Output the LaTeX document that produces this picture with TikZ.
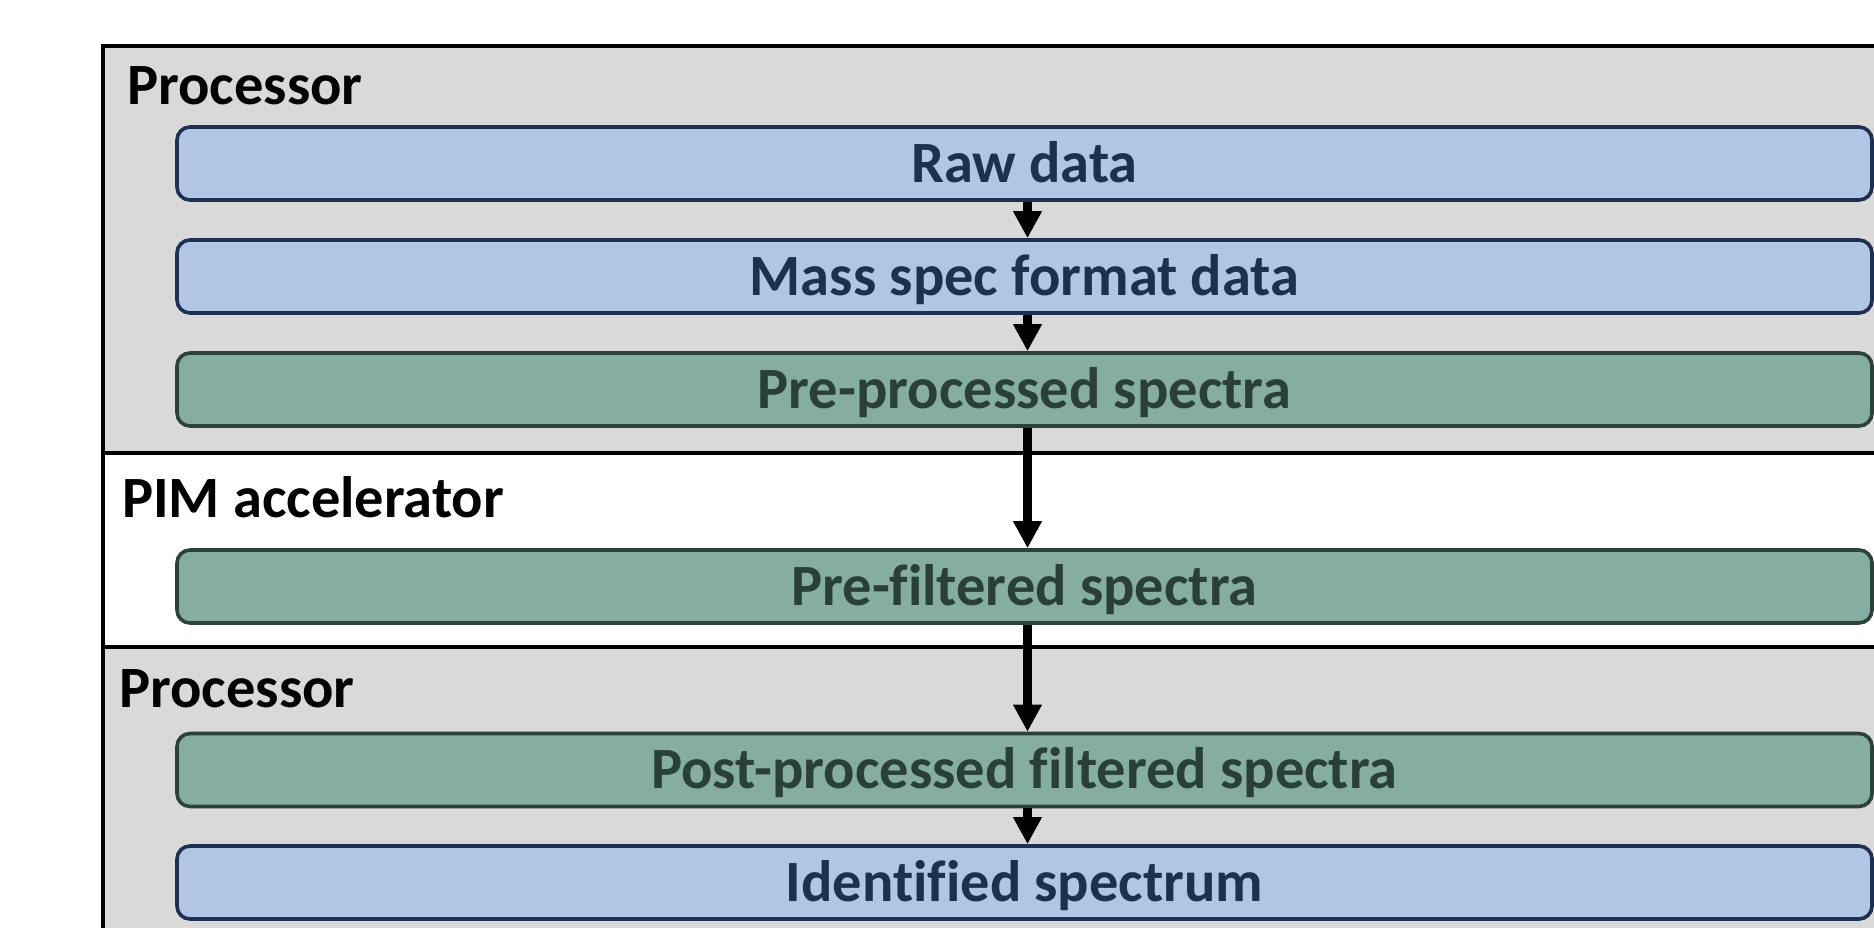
\documentclass[tikz,border=0pt]{standalone}
\usepackage{fontspec}
\setmainfont{Carlito}[Ligatures=NoCommon]
\usetikzlibrary{arrows.meta}
\definecolor{bggray}{HTML}{D9D9D9}
\definecolor{bluefill}{HTML}{B1C6E5}
\definecolor{blueline}{HTML}{1D3051}
\definecolor{bluetext}{HTML}{1D3051}
\definecolor{greenfill}{HTML}{85ADA2}
\definecolor{greenline}{HTML}{2C4239}
\definecolor{greentext}{HTML}{2A3F37}
\tikzset{
  stagebox/.style={rounded corners=13pt, line width=3.6pt, minimum width=1695pt,
    minimum height=73pt, inner sep=0pt, text height=37.7pt, text depth=0pt,
    font=\fontsize{58.5}{60}\selectfont\bfseries},
  bluebox/.style={stagebox, draw=blueline, fill=bluefill, text=bluetext},
  greenbox/.style={stagebox, draw=greenline, fill=greenfill, text=greentext},
  seclabel/.style={anchor=base west, inner sep=0pt, font=\fontsize{58.5}{60}\selectfont\bfseries},
  flow/.style={line width=8.5pt, -{Triangle[length=27pt,width=27pt]}},
}
\begin{document}
\begin{tikzpicture}[x=1pt,y=-1pt]
\useasboundingbox (0,0) rectangle (1874,927);
\clip (0,0) rectangle (1874,927);
% section backgrounds
\fill[bggray] (103,46) rectangle (1900,453);
\fill[white] (103,453) rectangle (1900,647);
\fill[bggray] (103,647) rectangle (1900,960);
% frame lines
\draw[line width=4pt] (1900,46) -- (103,46) -- (103,960);
\draw[line width=3.6pt] (103,453) -- (1900,453);
\draw[line width=3.6pt] (103,647) -- (1900,647);
% labels
\node[seclabel] (lproc1) at (127,104) {Processor};
\node[seclabel] (lpim) at (122,517) {PIM accelerator};
\node[seclabel] (lproc2) at (119,707) {Processor};
% boxes
\node[bluebox] (raw) at (1024.5,163.5) {Raw data};
\node[bluebox] (mass) at (1024.5,276.5) {Mass spec format data};
\node[greenbox] (pre) at (1024.5,389.5) {Pre-processed spectra};
\node[greenbox] (filt) at (1024.5,586.5) {Pre-filtered spectra};
\node[greenbox] (post) at (1024.5,770) {Post-processed filtered spectra};
\node[bluebox] (ident) at (1024.5,882.5) {Identified spectrum};
% arrows
\draw[flow] ([xshift=3pt]raw.south) -- ([xshift=3pt]mass.north);
\draw[flow] ([xshift=3pt]mass.south) -- ([xshift=3pt]pre.north);
\draw[flow] ([xshift=3pt]pre.south) -- ([xshift=3pt]filt.north);
\draw[flow] ([xshift=3pt]filt.south) -- ([xshift=3pt]post.north);
\draw[flow] ([xshift=3pt]post.south) -- ([xshift=3pt]ident.north);
\end{tikzpicture}
\end{document}
